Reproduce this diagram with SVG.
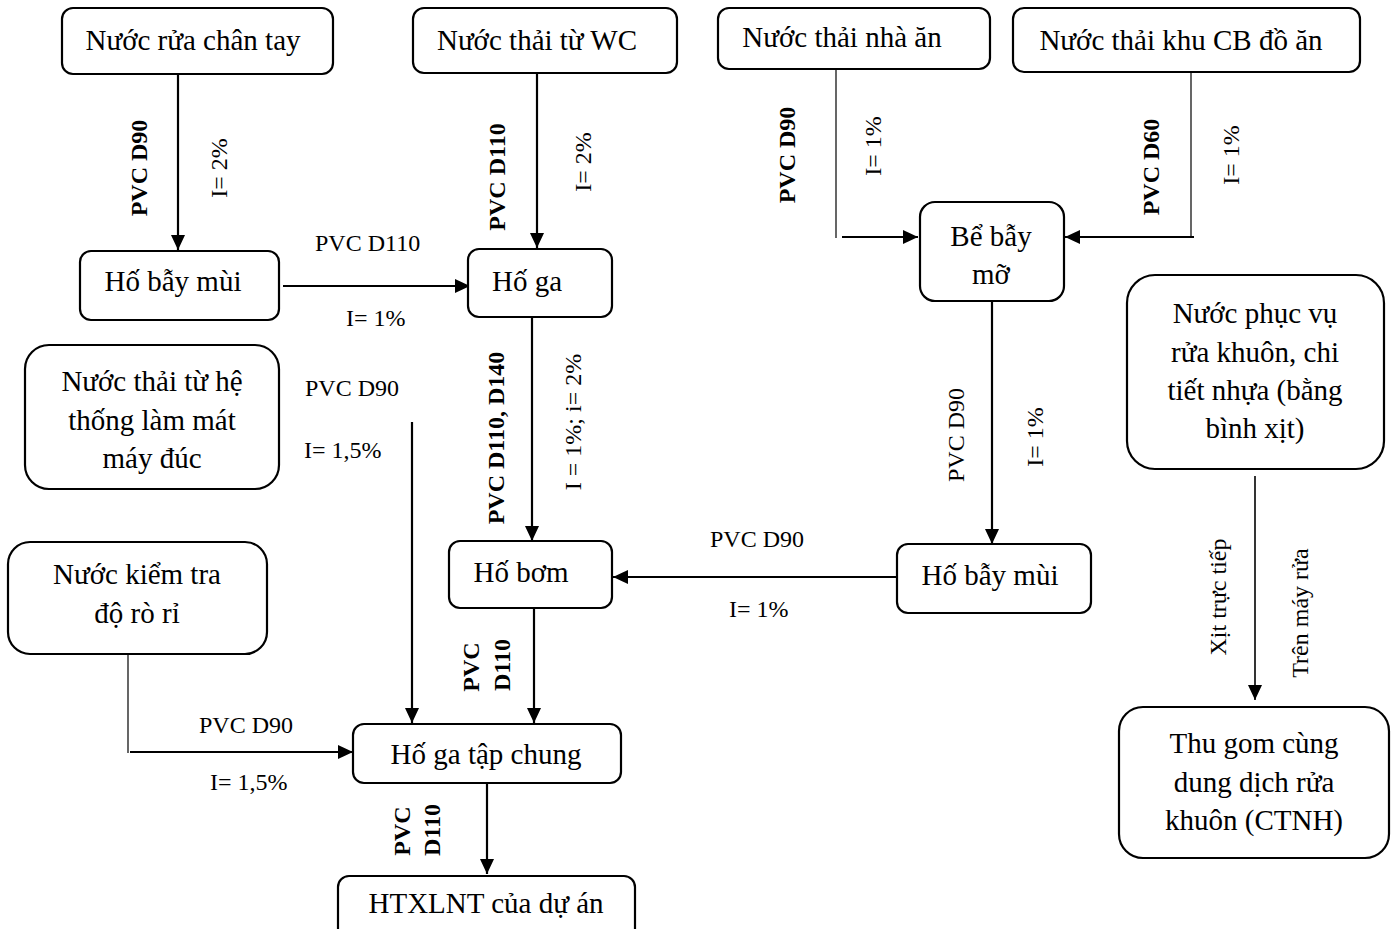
<svg xmlns="http://www.w3.org/2000/svg" width="1391" height="929" viewBox="0 0 1391 929">
<style>
.box{fill:#fff;stroke:#000;stroke-width:2.2}
.t{font-family:"Liberation Serif","Times New Roman",serif;font-size:29px;fill:#000;text-anchor:middle}
.l{font-family:"Liberation Serif","Times New Roman",serif;font-size:24px;fill:#000}
.r{font-family:"Liberation Serif","Times New Roman",serif;font-size:24px;fill:#000;text-anchor:middle}
.b{font-weight:bold}
.c{fill:none;stroke:#000;stroke-width:2.2}
.thin{fill:none;stroke:#000;stroke-width:1.2}
</style>
<defs>
<marker id="ah" markerUnits="userSpaceOnUse" markerWidth="16" markerHeight="14" refX="15" refY="7" orient="auto">
<path d="M0,0 L15,7 L0,14 z" fill="#000"/>
</marker>
</defs>
<rect width="1391" height="929" fill="#fff"/>

<g id="connectors">
<path class="c" d="M178,75 V250" marker-end="url(#ah)"/>
<path class="c" d="M537,73 V248" marker-end="url(#ah)"/>
<path class="c" d="M283,286 H470" marker-end="url(#ah)"/>
<path class="thin" d="M836,70 V238"/>
<path class="c" d="M842,237 H918" marker-end="url(#ah)"/>
<path class="thin" d="M1191,72 V238"/>
<path class="c" d="M1194,237 H1065" marker-end="url(#ah)"/>
<path class="c" d="M532,317 V541" marker-end="url(#ah)"/>
<path class="c" d="M992,301 V544" marker-end="url(#ah)"/>
<path class="c" d="M896,577 H613" marker-end="url(#ah)"/>
<path class="c" d="M412,422 V723" marker-end="url(#ah)"/>
<path class="thin" d="M128,655 V753"/>
<path class="c" d="M130,752 H353" marker-end="url(#ah)"/>
<path class="c" d="M534,608 V723" marker-end="url(#ah)"/>
<path class="c" d="M487,784 V874" marker-end="url(#ah)"/>
<path class="thin" d="M1255,476 V700" marker-end="url(#ah)" style="stroke-width:1.6"/>

<text class="r b" transform="translate(147,168) rotate(-90)">PVC D90</text>
<text class="r" transform="translate(227,168) rotate(-90)">I= 2%</text>
<text class="r b" transform="translate(505,177) rotate(-90)">PVC D110</text>
<text class="r" transform="translate(591,162) rotate(-90)">I= 2%</text>
<text class="l" x="315" y="251">PVC D110</text>
<text class="l" x="346" y="326">I= 1%</text>
<text class="r b" transform="translate(795,155) rotate(-90)">PVC D90</text>
<text class="r" transform="translate(881,146) rotate(-90)">I= 1%</text>
<text class="r b" transform="translate(1159,167) rotate(-90)">PVC D60</text>
<text class="r" transform="translate(1239,155) rotate(-90)">I= 1%</text>
<text class="l" x="305" y="396">PVC D90</text>
<text class="l" x="304" y="458">I= 1,5%</text>
<text class="r b" transform="translate(504,438) rotate(-90)">PVC D110, D140</text>
<text class="r" transform="translate(581,422) rotate(-90)">I = 1%; i= 2%</text>
<text class="r" transform="translate(964,435) rotate(-90)">PVC D90</text>
<text class="r" transform="translate(1043,437) rotate(-90)">I= 1%</text>
<text class="l" x="710" y="547">PVC D90</text>
<text class="l" x="729" y="617">I= 1%</text>
<text class="r b" transform="translate(479,667) rotate(-90)">PVC</text>
<text class="r b" transform="translate(510,665) rotate(-90)">D110</text>
<text class="l" x="199" y="733">PVC D90</text>
<text class="l" x="210" y="790">I= 1,5%</text>
<text class="r b" transform="translate(410,831) rotate(-90)">PVC</text>
<text class="r b" transform="translate(440,830) rotate(-90)">D110</text>
<text class="r" transform="translate(1226,597) rotate(-90)">Xịt trực tiếp</text>
<text class="r" transform="translate(1308,613) rotate(-90)">Trên máy rửa</text>
</g>

<g id="n1"><rect class="box" x="62" y="8" width="271" height="66" rx="11"/><text class="t" x="193" y="50">Nước rửa chân tay</text></g>
<g id="n2"><rect class="box" x="413" y="8" width="264" height="65" rx="11"/><text class="t" x="537" y="50">Nước thải từ WC</text></g>
<g id="n3"><rect class="box" x="718" y="8" width="272" height="61" rx="11"/><text class="t" x="842" y="47">Nước thải nhà ăn</text></g>
<g id="n4"><rect class="box" x="1013" y="8" width="347" height="64" rx="11"/><text class="t" x="1181" y="50">Nước thải khu CB đồ ăn</text></g>
<g id="n5"><rect class="box" x="80" y="251" width="199" height="69" rx="11"/><text class="t" x="173" y="291">Hố bẫy mùi</text></g>
<g id="n6"><rect class="box" x="468" y="249" width="144" height="68" rx="11"/><text class="t" x="527" y="291">Hố ga</text></g>
<g id="n7"><rect class="box" x="920" y="202" width="144" height="99" rx="15"/><text class="t" x="991" y="246">Bể bẫy</text><text class="t" x="991" y="284">mỡ</text></g>
<g id="n8"><rect class="box" x="1127" y="275" width="257" height="194" rx="28"/>
<text class="t" x="1255" y="323">Nước phục vụ</text><text class="t" x="1255" y="362">rửa khuôn, chi</text><text class="t" x="1255" y="400">tiết nhựa (bằng</text><text class="t" x="1255" y="438">bình xịt)</text></g>
<g id="n9"><rect class="box" x="25" y="345" width="254" height="144" rx="24"/>
<text class="t" x="152" y="391">Nước thải từ hệ</text><text class="t" x="152" y="430">thống làm mát</text><text class="t" x="152" y="468">máy đúc</text></g>
<g id="n10"><rect class="box" x="8" y="542" width="259" height="112" rx="22"/>
<text class="t" x="137" y="584">Nước kiểm tra</text><text class="t" x="137" y="623">độ rò rỉ</text></g>
<g id="n11"><rect class="box" x="449" y="541" width="163" height="67" rx="11"/><text class="t" x="521" y="582">Hố bơm</text></g>
<g id="n12"><rect class="box" x="897" y="544" width="194" height="69" rx="11"/><text class="t" x="990" y="585">Hố bẫy mùi</text></g>
<g id="n13"><rect class="box" x="1119" y="707" width="270" height="151" rx="24"/>
<text class="t" x="1254" y="753">Thu gom cùng</text><text class="t" x="1254" y="792">dung dịch rửa</text><text class="t" x="1254" y="830">khuôn (CTNH)</text></g>
<g id="n14"><rect class="box" x="353" y="724" width="268" height="59" rx="11"/><text class="t" x="486" y="764">Hố ga tập chung</text></g>
<g id="n15"><rect class="box" x="338" y="876" width="297" height="70" rx="11"/><text class="t" x="486" y="913">HTXLNT của dự án</text></g>
</svg>
